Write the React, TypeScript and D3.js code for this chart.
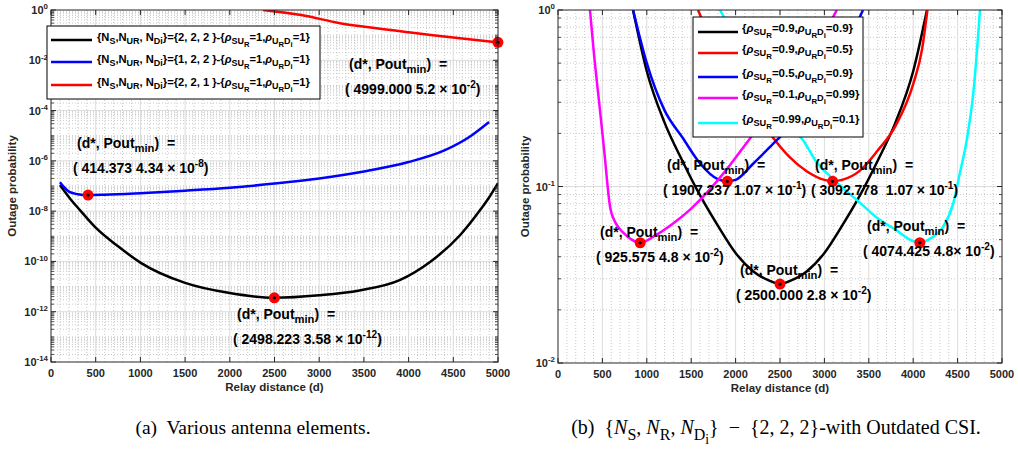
import React from "react";
import * as d3 from "d3";

const width = 1018;
const height = 454;

// (a) various antenna elements: relay distance d and outage probability
const distA222 = [100, 212, 324, 500, 750, 1000, 1500, 2000, 2498, 3000, 3450, 3900, 4240, 4575, 4800, 4900, 5000];
const poutA222 = [1.1e-7, 3.2e-8, 1.1e-8, 2.2e-9, 4e-10, 9e-11, 1.4e-11, 5.5e-12, 3.58e-12, 4.5e-12, 7e-12, 1.8e-11, 9.5e-11, 1.1e-9, 1.1e-8, 3.5e-8, 1.3e-7];
const distA122 = [100, 200, 300, 414, 600, 1000, 1500, 2000, 2500, 3000, 3500, 4000, 4400, 4700, 4900];
const poutA122 = [1.4e-7, 6e-8, 4.7e-8, 4.34e-8, 4.5e-8, 5.2e-8, 6.5e-8, 8.5e-8, 1.25e-7, 2e-7, 3.8e-7, 9e-7, 2.6e-6, 1e-5, 3.5e-5];
const distA221 = [2371, 2800, 3233, 3535, 4000, 4273, 4600, 4999];
const poutA221 = [1.0, 0.63, 0.3, 0.21, 0.13, 0.1, 0.074, 0.052];
const optDistA = [2498.223, 414.373, 4999.0];
const optPoutA = [3.58e-12, 4.34e-8, 5.2e-2];

// (b) outdated CSI
const distB_9_9 = [845, 1000, 1200, 1400, 1600, 1800, 2000, 2200, 2400, 2500, 2600, 2800, 3000, 3200, 3400, 3600, 3800, 4000, 4155];
const poutB_9_9 = [1.0, 0.45, 0.23, 0.14, 0.089, 0.06, 0.042, 0.033, 0.029, 0.028, 0.029, 0.033, 0.042, 0.06, 0.089, 0.14, 0.23, 0.45, 1.0];
const distB_9_5 = [1577, 1800, 2000, 2200, 2400, 2600, 2800, 3000, 3093, 3200, 3400, 3600, 3800, 4000, 4100, 4160];
const poutB_9_5 = [1.0, 0.56, 0.38, 0.27, 0.195, 0.148, 0.122, 0.109, 0.107, 0.109, 0.123, 0.16, 0.22, 0.38, 0.6, 1.0];
const distB_5_9 = [845, 1000, 1200, 1400, 1600, 1800, 1907, 2000, 2200, 2400, 2600, 2800, 3000, 3200, 3435];
const poutB_5_9 = [1.0, 0.5, 0.27, 0.19, 0.135, 0.11, 0.107, 0.109, 0.135, 0.17, 0.215, 0.28, 0.39, 0.57, 1.0];
const distB_1_99 = [360, 400, 473, 520, 586, 650, 732, 830, 925, 1100, 1300, 1500, 1700, 1900, 2100, 2300, 2500, 2700, 2900, 3140];
const poutB_1_99 = [1.0, 0.6, 0.27, 0.16, 0.077, 0.062, 0.055, 0.05, 0.048, 0.053, 0.062, 0.075, 0.095, 0.125, 0.17, 0.23, 0.3, 0.42, 0.6, 1.0];
const distB_99_1 = [1824, 2000, 2200, 2400, 2600, 2760, 2900, 3100, 3400, 3600, 3800, 4000, 4074, 4200, 4336, 4450, 4527, 4600, 4680, 4752];
const poutB_99_1 = [1.0, 0.7, 0.48, 0.33, 0.22, 0.183, 0.14, 0.11, 0.081, 0.066, 0.057, 0.049, 0.048, 0.051, 0.059, 0.08, 0.12, 0.18, 0.35, 1.0];
const optDistB = [1907.237, 3092.778, 925.575, 2500.0, 4074.425];
const optPoutB = [1.07e-1, 1.07e-1, 4.8e-2, 2.8e-2, 4.8e-2];

const optTextA = [
  ["( 2498.223 3.58 × 10", "-12"],
  ["( 414.373 4.34 × 10", "-8"],
  ["( 4999.000 5.2 × 10", "-2"],
];
const optTextB = [
  ["( 1907.237 1.07 × 10", "-1"],
  ["( 3092.778  1.07 × 10", "-1"],
  ["( 925.575 4.8 × 10", "-2"],
  ["( 2500.000 2.8 × 10", "-2"],
  ["( 4074.425 4.8× 10", "-2"],
];
const xTicks = [0, 500, 1000, 1500, 2000, 2500, 3000, 3500, 4000, 4500, 5000];

type Seg = { t: string; lv?: number; it?: boolean };
const SANS = "'Liberation Sans', Arial, sans-serif";

function Rich({ x, y, segs, size, anchor = "start", family = SANS, weight = "bold", fill = "#000" }: any) {
  const off = (lv: number) => (lv === 1 ? 0.3 : lv === 2 ? 0.5 : lv === -1 ? -0.42 : 0) * size;
  const fs = (lv: number) => (lv === 1 ? 0.8 : lv === 2 ? 0.68 : lv === -1 ? 0.72 : 1) * size;
  let cur = 0;
  return (
    <text x={x} y={y} fontSize={size} fontFamily={family} fontWeight={weight} textAnchor={anchor} style={{ whiteSpace: "pre" }} fill={fill}>
      {segs.map((s: Seg, i: number) => {
        const lv = s.lv || 0;
        const dy = off(lv) - cur;
        cur = off(lv);
        return (
          <tspan key={i} dy={dy} fontSize={fs(lv)} fontStyle={s.it ? "italic" : "normal"}>
            {s.t}
          </tspan>
        );
      })}
    </text>
  );
}

const rho = (a: string, b: string): Seg[] => [
  { t: "{" },
  { t: "ρ", it: true }, { t: "SU", lv: 1 }, { t: "R", lv: 2 }, { t: "=" + a + "," },
  { t: "ρ", it: true }, { t: "U", lv: 1 }, { t: "R", lv: 2 }, { t: "D", lv: 1 }, { t: "i", lv: 2 }, { t: "=" + b + "}" },
];
const nset = (a: string): Seg[] => [
  { t: "{N" }, { t: "S", lv: 1 }, { t: ",N" }, { t: "UR", lv: 1 }, { t: ", N" }, { t: "Di", lv: 1 }, { t: "}={" + a + " }-" },
];

function Panel({ id, x, y, yTickExps, lines, optD, optP, optText, notePos, legend, ylabelX }: any) {
  const [x0, x1] = x.range();
  const [y0, y1] = y.range(); // bottom, top
  const [lo, hi] = y.domain();
  const eLo = Math.round(Math.log10(lo));
  const eHi = Math.round(Math.log10(hi));
  const minorY: number[] = [];
  for (let e = eLo; e < eHi; e++) for (let k = 1; k < 10; k++) minorY.push(k * Math.pow(10, e));
  const majorY = yTickExps.map((e: number) => Math.pow(10, e));
  const isMajor = (v: number) => majorY.some((m: number) => Math.abs(Math.log10(m) - Math.log10(v)) < 1e-6);
  const minorX = d3.range(100, 5000, 100).filter((v) => v % 500 !== 0);
  const line = d3
    .line<[number, number]>()
    .x((d) => x(d[0]))
    .y((d) => y(d[1]))
    .curve(d3.curveMonotoneX);
  const midX = (x0 + x1) / 2;
  const midY = (y0 + y1) / 2;
  const axisCol = "#262626";
  return (
    <g>
      <defs>
        <clipPath id={id}>
          <rect x={x0} y={y1} width={x1 - x0} height={y0 - y1} />
        </clipPath>
      </defs>
      <rect x={x0} y={y1} width={x1 - x0} height={y0 - y1} fill="#fff" />
      {minorX.map((v) => (
        <line key={"mx" + v} x1={x(v)} x2={x(v)} y1={y1} y2={y0} stroke="#bdbdbd" strokeWidth={0.8} strokeDasharray="1,2" />
      ))}
      {minorY.filter((v) => !isMajor(v) && v > lo).map((v) => (
        <line key={"my" + v} x1={x0} x2={x1} y1={y(v)} y2={y(v)} stroke="#bdbdbd" strokeWidth={0.8} strokeDasharray="1,2" />
      ))}
      {xTicks.slice(1, -1).map((v) => (
        <line key={"gx" + v} x1={x(v)} x2={x(v)} y1={y1} y2={y0} stroke="#dcdcdc" strokeWidth={1} />
      ))}
      {majorY.filter((v: number) => v > lo && v < hi).map((v: number) => (
        <line key={"gy" + v} x1={x0} x2={x1} y1={y(v)} y2={y(v)} stroke="#dcdcdc" strokeWidth={1} />
      ))}
      <g clipPath={`url(#${id})`}>
        {lines.map((s: any, i: number) => (
          <path key={i} d={line(s.d.map((d: number, j: number) => [d, s.p[j]])) || ""} fill="none" stroke={s.color} strokeWidth={2.5} />
        ))}
      </g>
      {optD.map((d: number, i: number) => (
        <g key={"o" + i}>
          <circle cx={x(d)} cy={y(optP[i])} r={5.5} fill="#ff0000" />
          <circle cx={x(d)} cy={y(optP[i])} r={1.6} fill="#000" />
        </g>
      ))}
      {optText.map((t: string[], i: number) => (
        <g key={"n" + i}>
          <Rich x={notePos[i][0]} y={notePos[i][1]} size={14} segs={[{ t: "(d*, Pout" }, { t: "min", lv: 1 }, { t: ")  =" }]} />
          <Rich x={notePos[i][0] - 4} y={notePos[i][1] + 25} size={14} segs={[{ t: t[0] }, { t: t[1], lv: -1 }, { t: ")" }]} />
        </g>
      ))}
      {xTicks.map((v) => (
        <g key={"tx" + v}>
          <line x1={x(v)} x2={x(v)} y1={y0} y2={y0 - 5} stroke={axisCol} />
          <line x1={x(v)} x2={x(v)} y1={y1} y2={y1 + 5} stroke={axisCol} />
          <text x={x(v)} y={y0 + 15} fontSize={11} fontFamily={SANS} fontWeight="bold" textAnchor="middle" fill={axisCol}>
            {v}
          </text>
        </g>
      ))}
      {minorY.filter((v) => !isMajor(v) && v > lo).map((v) => (
        <g key={"ty" + v}>
          <line x1={x0} x2={x0 + 3} y1={y(v)} y2={y(v)} stroke={axisCol} strokeWidth={0.8} />
          <line x1={x1} x2={x1 - 3} y1={y(v)} y2={y(v)} stroke={axisCol} strokeWidth={0.8} />
        </g>
      ))}
      {yTickExps.map((e: number) => {
        const v = Math.pow(10, e);
        return (
          <g key={"yl" + e}>
            <line x1={x0} x2={x0 + 5} y1={y(v)} y2={y(v)} stroke={axisCol} />
            <line x1={x1} x2={x1 - 5} y1={y(v)} y2={y(v)} stroke={axisCol} />
            <Rich x={x0 - 3} y={y(v) + 4} size={11} anchor="end" fill={axisCol} segs={[{ t: "10" }, { t: String(e), lv: -1 }]} />
          </g>
        );
      })}
      <rect x={x0} y={y1} width={x1 - x0} height={y0 - y1} fill="none" stroke={axisCol} strokeWidth={1} />
      <text x={midX} y={y0 + 29} fontSize={11.5} fontFamily={SANS} fontWeight="bold" textAnchor="middle" fill={axisCol}>
        Relay distance (d)
      </text>
      <text transform={`translate(${ylabelX},${midY}) rotate(-90)`} fontSize={11.5} fontFamily={SANS} fontWeight="bold" textAnchor="middle" fill={axisCol}>
        Outage probability
      </text>
      <rect x={legend.x} y={legend.y} width={legend.w} height={legend.h} fill="#fff" stroke="#000" strokeWidth={1} />
      {legend.rows.map((r: any, i: number) => (
        <g key={"lg" + i}>
          <line x1={legend.lx0} x2={legend.lx1} y1={legend.ry[i]} y2={legend.ry[i]} stroke={r.color} strokeWidth={2.5} />
          <Rich x={legend.tx} y={legend.ry[i] + legend.dy} size={legend.fs} segs={r.segs} />
        </g>
      ))}
    </g>
  );
}

export default function App() {
  const xA = d3.scaleLinear().domain([0, 5000]).range([51, 498]);
  const yA = d3.scaleLog().domain([1e-14, 1]).range([362, 10]);
  const xB = d3.scaleLinear().domain([0, 5000]).range([558, 1002]);
  const yB = d3.scaleLog().domain([1e-2, 1]).range([363, 10]);

  const linesA = [
    { d: distA222, p: poutA222, color: "#000000" },
    { d: distA122, p: poutA122, color: "#0000ff" },
    { d: distA221, p: poutA221, color: "#ff0000" },
  ];
  const linesB = [
    { d: distB_9_9, p: poutB_9_9, color: "#000000" },
    { d: distB_9_5, p: poutB_9_5, color: "#ff0000" },
    { d: distB_5_9, p: poutB_5_9, color: "#0000ff" },
    { d: distB_1_99, p: poutB_1_99, color: "#ff00ff" },
    { d: distB_99_1, p: poutB_99_1, color: "#00ffff" },
  ];

  const legendA = {
    x: 47, y: 26, w: 273, h: 73, lx0: 51, lx1: 92, tx: 97, dy: 1, fs: 11.2,
    ry: [40, 62, 85],
    rows: [
      { color: "#000000", segs: [...nset("2, 2, 2"), ...rho("1", "1")] },
      { color: "#0000ff", segs: [...nset("1, 2, 2"), ...rho("1", "1")] },
      { color: "#ff0000", segs: [...nset("2, 2, 1"), ...rho("1", "1")] },
    ],
  };
  const legendB = {
    x: 693, y: 17, w: 170, h: 120, lx0: 698, lx1: 738, tx: 742, dy: 0, fs: 11.5,
    ry: [32, 53, 77, 98, 123],
    rows: [
      { color: "#000000", segs: rho("0.9", "0.9") },
      { color: "#ff0000", segs: rho("0.9", "0.5") },
      { color: "#0000ff", segs: rho("0.5", "0.9") },
      { color: "#ff00ff", segs: rho("0.1", "0.99") },
      { color: "#00ffff", segs: rho("0.99", "0.1") },
    ],
  };

  const SERIF = "'Liberation Serif', 'Times New Roman', serif";
  return (
    <svg width={width} height={height} style={{ position: "absolute", left: 0, top: 0, background: "#fff" }}>
      <rect width={width} height={height} fill="#fff" />
      <Panel
        id="clipA" x={xA} y={yA} yTickExps={[-14, -12, -10, -8, -6, -4, -2, 0]}
        lines={linesA} optD={optDistA} optP={optPoutA} optText={optTextA}
        notePos={[[237, 319], [77, 148], [349, 69]]} legend={legendA} ylabelX={16}
      />
      <Panel
        id="clipB" x={xB} y={yB} yTickExps={[-2, -1, 0]}
        lines={linesB} optD={optDistB} optP={optPoutB} optText={optTextB}
        notePos={[[667, 170], [815, 170], [600, 237], [740, 275], [867, 231]]} legend={legendB} ylabelX={529}
      />
      <Rich x={253} y={434} size={19.5} family={SERIF} weight="normal" anchor="middle" segs={[{ t: "(a)  Various antenna elements." }]} />
      <Rich
        x={776} y={434} size={20} family={SERIF} weight="normal" anchor="middle"
        segs={[
          { t: "(b)  {" }, { t: "N", it: true }, { t: "S", lv: 1 }, { t: ", " }, { t: "N", it: true }, { t: "R", lv: 1 },
          { t: ", " }, { t: "N", it: true }, { t: "D", lv: 1 }, { t: "i", lv: 2 }, { t: "}  −  {2, 2, 2}-with Outdated CSI." },
        ]}
      />
    </svg>
  );
}
